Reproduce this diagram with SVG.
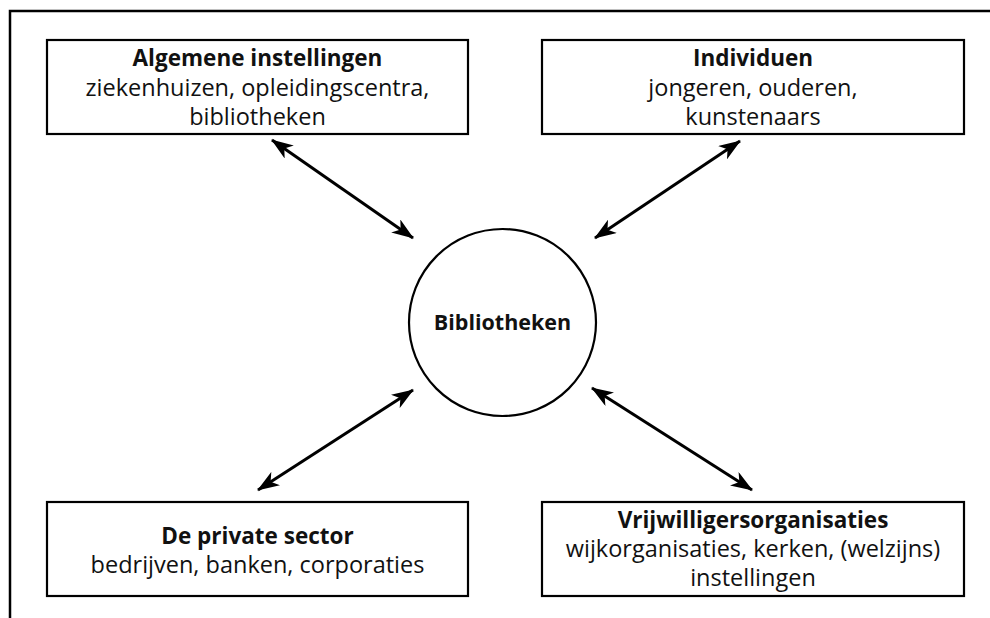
<svg xmlns="http://www.w3.org/2000/svg" width="990" height="618" viewBox="0 0 990 618">
<style>
.box{fill:#fff;stroke:#000;stroke-width:2.2}
.t{font-family:"Open Sans","Noto Sans","Liberation Sans",sans-serif;font-size:23.5px;text-anchor:middle;fill:#111}
.b{font-weight:bold;font-size:22.5px}
.c{stroke:#000;stroke-width:3;fill:none;marker-start:url(#ah);marker-end:url(#ah)}
</style>
<defs>
<marker id="ah" markerUnits="userSpaceOnUse" viewBox="0 0 22 16" refX="21" refY="8" markerWidth="22" markerHeight="16" orient="auto-start-reverse">
<path d="M0,0 L22,8 L0,16 L6,8 Z" fill="#000"/>
</marker>
</defs>
<rect width="990" height="618" fill="#fff"/>
<path d="M10,618 V11 H990" fill="none" stroke="#000" stroke-width="2.5"/>
<g id="connectors">
<line class="c" x1="272" y1="140" x2="413" y2="238"/>
<line class="c" x1="740" y1="141" x2="595" y2="238"/>
<line class="c" x1="413" y1="390" x2="258" y2="490"/>
<line class="c" x1="592" y1="388" x2="752" y2="490"/>
</g>
<g id="algemene">
<rect class="box" x="47" y="40" width="421" height="94"/>
<text class="t b" x="257.5" y="66">Algemene instellingen</text>
<text class="t" x="257.5" y="96">ziekenhuizen, opleidingscentra,</text>
<text class="t" x="257.5" y="125">bibliotheken</text>
</g>
<g id="individuen">
<rect class="box" x="542" y="40" width="422" height="94"/>
<text class="t b" x="753" y="66">Individuen</text>
<text class="t" x="753" y="96">jongeren, ouderen,</text>
<text class="t" x="753" y="125">kunstenaars</text>
</g>
<g id="private">
<rect class="box" x="47" y="502" width="421" height="94"/>
<text class="t b" x="257.5" y="544">De private sector</text>
<text class="t" x="257.5" y="573">bedrijven, banken, corporaties</text>
</g>
<g id="vrijwilligers">
<rect class="box" x="542" y="502" width="422" height="94"/>
<text class="t b" x="753" y="528">Vrijwilligersorganisaties</text>
<text class="t" x="753" y="557">wijkorganisaties, kerken, (welzijns)</text>
<text class="t" x="753" y="586">instellingen</text>
</g>
<g id="bibliotheken">
<circle cx="502.5" cy="322.5" r="93.5" fill="#fff" stroke="#000" stroke-width="2.2"/>
<text class="t b" x="502.5" y="330" style="font-size:21.5px">Bibliotheken</text>
</g>
</svg>
